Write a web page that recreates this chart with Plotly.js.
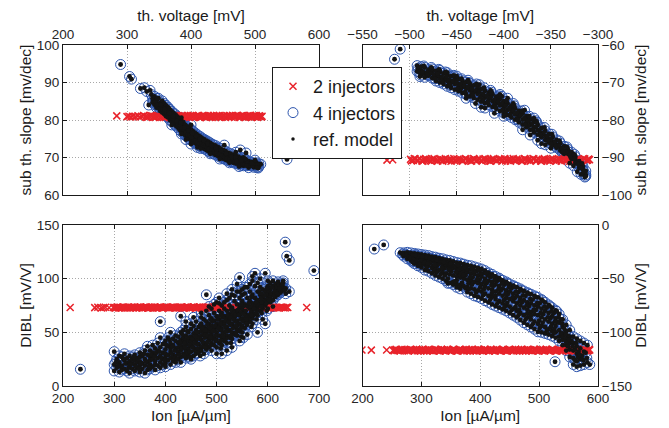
<!DOCTYPE html>
<html>
<head>
<meta charset="utf-8">
<script src="https://cdn.plot.ly/plotly-3.0.1.min.js"></script>
<style>html,body{margin:0;padding:0;background:#fff;}#chart{width:669px;height:428px;}</style>
</head>
<body>
<div id="chart"></div>
<script>
// ---------- DATA ----------
const seriesNames = ["2 injectors", "4 injectors", "ref. model"];

// Top-left: th. voltage [mV] vs sub th. slope [mv/dec]
const tlInj2 = [[284,81.1],[300,80.9],[303,81.0],[306,80.8],[309,81.0],[313,80.9],[317,81.1],[320,80.8],[323,81.0],[326,81.2],[329,80.9],[331,80.7],[335,81.0],[337,81.2],[341,80.8],[342,81.0],[346,80.9],[349,81.1],[351,80.7],[355,81.0],[358,81.2],[360,80.8],[363,81.0],[367,80.9],[369,81.1],[372,80.7],[376,81.0],[378,81.2],[381,80.8],[384,81.0],[388,80.9],[390,81.1],[393,80.7],[396,81.0],[399,81.2],[402,80.8],[404,81.0],[408,80.9],[411,81.1],[413,80.7],[416,81.0],[419,81.2],[422,80.8],[425,81.0],[428,80.9],[431,81.1],[433,80.7],[437,81.0],[440,81.2],[443,80.8],[445,81.0],[448,80.9],[452,81.1],[454,80.7],[457,81.0],[460,81.2],[463,80.8],[466,81.0],[469,80.9],[471,81.1],[475,80.7],[477,81.0],[480,81.2],[483,80.8],[486,81.0],[489,80.9],[492,81.1],[494,80.7],[497,81.0],[500,81.2],[503,80.8],[505,81.0],[508,80.9],[511,81.0],
 [333,80.8],[339,81.1],[344,80.7],[348,81.2],[353,80.9],[357,80.7],[361,81.1],[365,81.2],[368,80.7],[371,81.0],[374,81.2],[377,80.8],[380,81.1],[383,80.7],[386,81.2],[389,80.8],[392,81.0],[395,81.2],[398,80.7],[401,81.0],[403,81.2],[406,80.8],[409,81.0],[412,81.2],[415,80.7],[418,81.0],[421,81.1],[424,80.7],[427,81.2],[430,80.8],[432,81.0],[435,81.2],[438,80.7],[441,81.0],[444,81.2],[447,80.7],[450,81.0],[453,80.8],[456,81.2],[459,80.8],[462,81.0],[465,81.2],[468,80.7],[470,81.0],[473,81.2],[476,80.8],[479,81.0],[482,81.2],[485,80.7],[488,81.1],[490,80.8],[493,81.2],[496,80.8],[499,81.0],[502,81.2],[504,80.7],[507,81.1],[510,80.8]];
const tlInj4 = [[290,94.8],[304,91.6],[307,90.9],[321,88.4],[327,88.6],[331,87.6],[336,87.9],[338,86.8],[334,84.0],[341,85.2],[340,85.8],[340,84.7],[343,86.3],[343,84.1],[346,85.2],[346,83.3],[346,84.6],[349,85.8],[349,83.9],[352,84.6],[352,82.4],[352,83.5],[355,85.1],[355,83.8],[355,82.0],[358,83.2],[358,81.6],[358,84.4],[361,82.7],[361,81.0],[361,83.9],[364,82.1],[364,80.7],[364,83.4],[367,81.6],[367,80.0],[367,82.8],[370,81.2],[370,79.6],[370,82.3],[370,80.4],[373,80.6],[373,79.1],[373,81.8],[376,80.1],[376,78.5],[376,81.4],[376,79.3],[379,79.5],[379,78.0],[379,80.9],[382,79.0],[382,77.4],[382,80.4],[382,78.2],[385,78.4],[385,76.9],[385,79.8],[385,80.6],[388,77.9],[388,76.5],[388,79.4],[388,78.6],[391,77.4],[391,75.9],[391,78.7],[392,74.8],[394,76.9],[394,75.5],[394,78.3],[394,76.2],[397,76.6],[397,75.0],[397,77.9],[400,76.0],[400,74.6],[400,77.5],[400,78.7],[400,73.6],[403,75.7],[403,74.2],[403,77.0],[406,75.2],[406,73.9],[406,76.6],[406,76.0],[409,74.9],[409,73.5],[409,76.2],[410,72.7],[412,74.5],[412,73.2],[412,75.8],[415,74.2],[415,72.9],[415,75.5],[415,73.7],[418,73.9],[418,72.6],[418,75.1],[421,73.6],[421,72.3],[421,74.8],[421,74.2],[424,73.3],[424,72.0],[424,74.5],[427,73.0],[427,71.7],[427,74.2],[430,72.7],[430,71.4],[430,73.9],[430,72.0],[434,72.4],[434,71.1],[434,73.5],[438,72.0],[438,70.7],[438,73.2],[442,71.6],[442,70.4],[442,72.8],[442,71.0],[446,71.2],[446,70.1],[446,72.4],[450,70.8],[450,69.7],[450,72.0],[450,70.3],[452,73.3],[454,70.5],[454,69.4],[454,71.7],[458,70.2],[458,69.1],[458,71.3],[462,69.9],[462,68.9],[462,71.0],[462,69.5],[466,69.6],[466,68.6],[466,70.7],[470,69.3],[470,68.4],[470,70.5],[470,71.4],[474,69.1],[474,68.2],[474,70.2],[477,72.0],[478,68.8],[478,67.9],[478,69.9],[482,68.7],[482,67.8],[482,70.0],[486,68.5],[486,69.3],[486,71.2],[490,68.1],[490,67.3],[490,69.0],[494,67.9],[494,68.8],[498,68.2],[498,67.4],[502,67.8],[502,68.6],[506,67.6],[506,68.3],[509,68.2],[550,69.5],
 [344,85.0],[347,84.0],[350,83.1],[353,83.0],[356,82.8],[359,82.3],[362,81.9],[365,81.5],[368,80.9],[371,80.5],[374,79.9],[377,79.6],[380,78.8],[383,78.6],[386,77.8],[389,77.2],[392,76.6],[395,76.0],[398,75.8],[401,75.1],[404,74.9],[407,74.4],[410,74.0],[413,73.8],[416,73.4],[419,73.3],[422,72.9],[425,72.7],[428,72.3],[432,71.9],[436,71.5],[440,71.2],[444,70.8],[448,70.4],[452,70.0],[456,69.8],[460,69.4],[464,69.0],[468,68.9],[472,68.7],[476,68.4],[480,68.3],[484,68.0],[488,68.6],[492,68.3],[496,67.8],[500,68.4],[504,68.0],[380,80.3],[395,77.6],[410,75.5],[425,74.0],[440,72.2],[455,71.0],[470,70.0],[485,69.6],[500,69.3],[365,83.0],[370,78.7],[385,76.3],[400,75.4],[415,72.4],[430,71.0],[445,69.6],[460,68.6],[475,67.6],[490,67.9],[505,67.2],
 [347,85.7],[353,84.1],[359,82.9],[366,81.8],[372,81.0],[378,79.8],[384,79.3],[390,78.0],[396,77.2],[402,76.5],[408,75.7],[414,74.9],[420,74.5],[426,73.6],[432,73.2],[439,72.6],[447,71.8],[455,71.1],[463,70.2],[471,69.0],[479,69.3],[487,67.8],[495,68.5],[503,67.3]];

// Top-right: th. voltage [mV] vs sub th. slope [mv/dec]
const trInj2 = [[-524,-90.7],[-518,-90.6],[-499,-90.5],[-496,-90.8],[-494,-90.4],[-491,-90.7],[-487,-90.9],[-485,-90.5],[-482,-90.6],[-478,-90.8],[-476,-90.4],[-473,-90.7],[-470,-90.9],[-466,-90.5],[-464,-90.6],[-461,-90.8],[-457,-90.4],[-455,-90.7],[-452,-90.9],[-449,-90.5],[-445,-90.6],[-443,-90.8],[-440,-90.4],[-436,-90.7],[-434,-90.9],[-431,-90.5],[-428,-90.6],[-424,-90.8],[-422,-90.4],[-419,-90.7],[-415,-90.9],[-413,-90.5],[-410,-90.6],[-407,-90.8],[-403,-90.4],[-401,-90.7],[-398,-90.9],[-394,-90.5],[-392,-90.6],[-389,-90.8],[-386,-90.4],[-382,-90.7],[-380,-90.9],[-377,-90.5],[-373,-90.6],[-371,-90.8],[-368,-90.4],[-365,-90.7],[-361,-90.9],[-359,-90.5],[-356,-90.6],[-352,-90.8],[-350,-90.4],[-347,-90.7],[-344,-90.9],[-340,-90.5],[-338,-90.6],[-335,-90.8],[-331,-90.4],[-329,-90.7],[-326,-90.9],[-323,-90.5],[-319,-90.6],[-317,-90.8],[-314,-90.4],[-311,-90.7],[-309,-90.6],
 [-498,-90.9],[-495,-90.3],[-492,-90.8],[-489,-90.4],[-486,-91.0],[-483,-90.3],[-480,-90.7],[-477,-91.0],[-474,-90.3],[-471,-90.8],[-468,-90.5],[-465,-91.0],[-462,-90.3],[-459,-90.7],[-456,-91.0],[-453,-90.3],[-450,-90.8],[-447,-90.5],[-444,-91.0],[-441,-90.3],[-438,-90.7],[-435,-91.0],[-432,-90.3],[-429,-90.8],[-426,-90.5],[-423,-91.0],[-420,-90.3],[-417,-90.7],[-414,-91.0],[-411,-90.3],[-408,-90.8],[-405,-90.5],[-402,-91.0],[-399,-90.3],[-396,-90.7],[-393,-91.0],[-390,-90.3],[-387,-90.8],[-384,-90.5],[-381,-91.0],[-378,-90.3],[-375,-90.7],[-372,-91.0],[-369,-90.3],[-366,-90.8],[-363,-90.5],[-360,-91.0],[-357,-90.3],[-354,-90.7],[-351,-91.0],[-348,-90.3],[-345,-90.8],[-342,-90.5],[-339,-91.0],[-336,-90.3],[-333,-90.7],[-330,-91.0],[-327,-90.3],[-324,-90.8],[-321,-90.5],[-318,-91.0],[-315,-90.3],[-312,-90.8],[-310,-90.4]];
const trInj4 = [[-510,-61.1],[-516,-63.8],[-492,-65.5],[-492,-67.0],[-491,-66.2],[-488,-66.8],[-488,-65.8],[-488,-68.0],[-484,-66.0],[-484,-67.5],[-484,-68.6],[-480,-66.6],[-480,-68.2],[-480,-67.2],[-476,-67.0],[-476,-68.8],[-476,-66.4],[-472,-66.9],[-472,-68.5],[-472,-69.6],[-468,-67.3],[-468,-68.9],[-468,-70.0],[-468,-66.8],[-464,-67.6],[-464,-69.3],[-464,-70.4],[-460,-68.0],[-460,-69.6],[-460,-71.0],[-460,-67.4],[-456,-68.3],[-456,-70.0],[-456,-71.4],[-452,-68.7],[-452,-70.4],[-452,-71.9],[-452,-69.4],[-448,-69.1],[-448,-70.8],[-448,-72.3],[-444,-69.5],[-444,-71.2],[-444,-72.8],[-444,-70.3],[-440,-69.9],[-440,-71.6],[-440,-73.2],[-440,-74.2],[-436,-70.3],[-436,-72.1],[-436,-73.7],[-436,-71.0],[-432,-70.8],[-432,-72.6],[-432,-74.1],[-430,-75.6],[-428,-71.2],[-428,-73.0],[-428,-74.6],[-428,-72.1],[-424,-71.7],[-424,-73.5],[-424,-75.1],[-424,-76.6],[-420,-72.2],[-420,-74.0],[-420,-75.5],[-420,-76.8],[-416,-72.7],[-416,-74.5],[-416,-76.0],[-416,-73.4],[-412,-73.2],[-412,-75.0],[-412,-76.5],[-410,-78.2],[-408,-73.8],[-408,-75.5],[-408,-77.0],[-408,-74.6],[-404,-74.4],[-404,-76.1],[-404,-77.6],[-404,-73.2],[-400,-75.0],[-400,-76.7],[-400,-78.2],[-400,-75.9],[-400,-79.0],[-396,-75.6],[-396,-77.3],[-396,-78.7],[-396,-74.2],[-392,-76.2],[-392,-77.9],[-392,-79.3],[-392,-77.0],[-388,-76.9],[-388,-78.5],[-388,-79.9],[-384,-77.6],[-384,-79.2],[-384,-80.6],[-384,-78.4],[-380,-78.3],[-380,-79.9],[-380,-81.2],[-380,-82.6],[-376,-79.0],[-376,-80.6],[-376,-81.9],[-376,-80.0],[-372,-79.8],[-372,-81.3],[-372,-82.6],[-372,-84.0],[-368,-80.5],[-368,-82.0],[-368,-83.3],[-368,-79.5],[-364,-81.3],[-364,-82.7],[-364,-83.9],[-364,-85.4],[-360,-82.1],[-360,-83.5],[-360,-84.6],[-360,-86.3],[-356,-82.9],[-356,-84.2],[-356,-85.3],[-356,-86.6],[-352,-83.7],[-352,-85.0],[-352,-86.0],[-350,-87.5],[-348,-84.5],[-348,-85.8],[-348,-86.7],[-344,-85.3],[-344,-86.6],[-344,-87.4],[-340,-86.2],[-340,-87.4],[-340,-88.1],[-336,-87.0],[-336,-88.2],[-336,-89.0],[-332,-87.8],[-332,-89.0],[-332,-88.4],[-330,-91.5],[-328,-88.6],[-328,-89.8],[-328,-90.4],[-326,-92.2],[-324,-89.8],[-324,-90.6],[-324,-91.4],[-322,-93.8],[-320,-91.0],[-320,-92.0],[-320,-92.8],[-318,-94.5],[-316,-92.4],[-316,-93.2],[-316,-94.3],[-313,-93.6],[-313,-94.6],[-313,-95.0],
 [-490,-67.2],[-486,-67.1],[-482,-67.4],[-478,-67.6],[-474,-68.0],[-470,-68.1],[-466,-68.5],[-462,-68.8],[-458,-69.2],[-454,-69.6],[-450,-70.0],[-446,-70.4],[-442,-70.8],[-438,-71.2],[-434,-71.7],[-430,-72.1],[-426,-72.5],[-422,-73.0],[-418,-73.5],[-414,-74.0],[-410,-74.6],[-406,-75.1],[-402,-75.6],[-398,-76.2],[-394,-76.8],[-390,-77.5],[-386,-78.1],[-382,-78.8],[-378,-79.5],[-374,-80.3],[-370,-81.0],[-366,-81.8],[-362,-82.6],[-358,-83.4],[-354,-84.3],[-350,-85.1],[-346,-86.0],[-342,-86.8],[-338,-87.6],[-334,-88.5],[-330,-89.4],[-326,-90.4],[-322,-91.5],[-318,-92.8],[-315,-93.8],[-470,-67.6],[-458,-70.4],[-446,-71.8],[-434,-73.0],[-422,-74.6],[-410,-76.0],[-398,-77.8],[-386,-79.6],[-374,-81.5],[-362,-83.8],[-350,-86.3],[-338,-88.6],[-462,-67.2],[-450,-68.3],[-438,-69.4],[-426,-70.6],[-414,-72.1],[-402,-73.7],[-390,-75.6],[-378,-77.4],[-366,-80.2],
 [-489,-68.4],[-485,-65.6],[-481,-67.9],[-477,-66.0],[-473,-69.0],[-469,-66.5],[-465,-69.8],[-461,-68.4],[-457,-70.7],[-453,-68.1],[-449,-71.6],[-445,-69.0],[-441,-72.6],[-437,-70.0],[-433,-73.4],[-429,-70.4],[-425,-74.0],[-421,-71.4],[-417,-75.2],[-413,-72.6],[-409,-76.4],[-405,-73.6],[-401,-77.3],[-397,-75.0],[-393,-78.6],[-389,-76.2],[-385,-80.0],[-381,-77.6],[-377,-81.2],[-373,-79.0],[-369,-82.6],[-365,-80.6],[-361,-84.0],[-357,-82.0],[-353,-85.5],[-349,-83.8],[-345,-87.0],[-341,-85.6],[-337,-88.4],[-333,-87.2],[-329,-90.0],[-325,-89.2],[-321,-91.8],[-317,-91.6],[-314,-95.2]];

// Bottom-left: Ion [uA/um] vs DIBL [mV/V]
const blInj2 = [[214,73.2],[262,73.0],[268,73.4],[275,72.8],[279,73.1],[283,73.3],[290,72.9],[298,73.2],[301,73.0],[305,73.4],[309,72.8],[313,73.1],[317,73.3],[321,72.9],[325,73.2],[329,73.0],[333,73.4],[337,72.8],[341,73.1],[345,73.3],[349,72.9],[353,73.2],[357,73.0],[361,73.4],[365,72.8],[369,73.1],[373,73.3],[377,72.9],[381,73.2],[385,73.0],[389,73.4],[393,72.8],[397,73.1],[401,73.3],[405,72.9],[409,73.2],[413,73.0],[417,73.4],[421,72.8],[425,73.1],[429,73.3],[433,72.9],[437,73.2],[441,73.0],[445,73.4],[449,72.8],[453,73.1],[457,73.3],[461,72.9],[465,73.2],[469,73.0],[473,73.4],[477,72.8],[481,73.1],[485,73.3],[489,72.9],[494,73.2],[499,73.0],[505,73.4],[512,72.8],[520,73.1],[531,73.3],[545,72.9],[558,73.2],[570,73.0],[583,73.4],[592,72.8],[600,73.1],[606,73.3],[611,72.9],[617,73.2],[623,73.0],[628,73.4],[634,72.8],[639,73.1],[676,73.2],
 [303,72.7],[307,73.5],[311,73.0],[315,72.6],[319,73.5],[323,72.9],[327,73.6],[331,72.7],[335,73.2],[339,73.6],[343,72.6],[347,73.3],[351,73.6],[355,72.7],[359,73.1],[363,73.6],[367,72.6],[371,73.4],[375,72.8],[379,73.6],[383,72.7],[387,73.2],[391,73.6],[395,72.6],[399,73.3],[403,73.6],[407,72.7],[411,73.1],[415,73.6],[419,72.6],[423,73.4],[427,72.8],[431,73.6],[435,72.7],[439,73.2],[443,73.6],[447,72.6],[451,73.3],[455,73.6],[459,72.7],[463,73.1],[467,73.6],[471,72.6],[475,73.4],[479,72.8],[483,73.6],[487,72.7],[491,73.2],[496,73.5],[502,72.7],[508,73.3],[515,73.0],[525,72.7],[538,73.4],[552,73.0],[564,72.7],[576,73.3],[588,73.0],[596,73.5],[603,72.7],[609,73.4],[614,73.0],[620,72.7],[626,73.3],[631,73.0],[637,73.4]];
const blInj4 = [[234,15.6],[300,32],[300,14],[300,20],[305,17],[305,25],[310,22],[310,13],[310,28],[315,19],[315,27],[315,15],[320,24],[320,16],[320,30],[325,21],[325,14],[325,26],[330,18],[330,28],[330,23],[330,12],[335,25],[335,16],[335,21],[340,20],[340,29],[340,14],[340,24],[345,17],[345,26],[345,22],[350,27],[350,19],[350,13],[350,31],[350,23],[355,21],[355,16],[355,28],[360,25],[360,12],[360,33],[360,19],[365,22],[365,29],[365,15],[365,37],[370,27],[370,20],[370,33],[370,16],[370,24],[375,31],[375,18],[375,25],[375,38],[380,23],[380,29],[380,15],[380,35],[380,20],[385,33],[385,26],[385,19],[385,40],[390,28],[390,22],[390,36],[390,17],[390,60],[390,45],[395,31],[395,25],[395,39],[395,20],[400,34],[400,27],[400,21],[400,42],[400,30],[400,18],[405,29],[405,37],[405,24],[405,45],[410,32],[410,26],[410,40],[410,20],[410,35],[410,50],[415,38],[415,29],[415,44],[415,23],[420,35],[420,28],[420,42],[420,22],[420,47],[425,40],[425,31],[425,25],[425,46],[425,36],[430,33],[430,43],[430,27],[430,38],[430,65],[430,50],[430,22],[435,45],[435,36],[435,30],[435,41],[435,52],[440,39],[440,33],[440,47],[440,26],[440,43],[440,55],[445,42],[445,35],[445,50],[445,29],[445,45],[450,38],[450,46],[450,32],[450,53],[450,25],[450,41],[450,58],[455,44],[455,36],[455,49],[455,28],[455,56],[460,41],[460,52],[460,34],[460,47],[460,60],[460,30],[465,46],[465,39],[465,55],[465,31],[465,50],[470,43],[470,51],[470,36],[470,58],[470,33],[470,47],[470,64],[475,49],[475,40],[475,55],[475,30],[475,62],[480,46],[480,53],[480,38],[480,60],[480,34],[480,50],[480,85],[480,70],[485,51],[485,43],[485,58],[485,36],[485,66],[490,48],[490,56],[490,40],[490,63],[490,33],[490,52],[490,72],[495,54],[495,45],[495,61],[495,38],[495,68],[500,50],[500,58],[500,43],[500,65],[500,36],[500,55],[500,78],[500,30],[505,56],[505,47],[505,62],[505,40],[505,70],[505,82],[510,53],[510,60],[510,45],[510,68],[510,38],[510,75],[510,57],[510,30],[515,58],[515,50],[515,65],[515,42],[515,72],[520,55],[520,63],[520,47],[520,70],[520,40],[520,80],[520,86],[520,33],[525,61],[525,52],[525,67],[525,45],[525,75],[530,58],[530,66],[530,50],[530,73],[530,44],[530,85],[530,90],[530,36],[535,64],[535,55],[535,70],[535,48],[535,79],[540,61],[540,68],[540,53],[540,76],[540,47],[540,88],[540,95],[545,66],[545,58],[545,73],[545,51],[545,82],[545,101],[545,42],[550,63],[550,71],[550,56],[550,79],[550,50],[550,90],[550,85],[552,45],[555,69],[555,61],[555,76],[555,54],[555,86],[560,66],[560,74],[560,59],[560,82],[560,57],[560,92],[560,48],[565,72],[565,64],[565,79],[565,60],[565,88],[570,70],[570,77],[570,63],[570,85],[570,98],[570,102],[570,58],[575,75],[575,67],[575,82],[575,93],[575,105],[580,73],[580,80],[580,66],[580,88],[580,50],[580,96],[585,78],[585,70],[585,85],[585,92],[590,76],[590,83],[590,72],[590,90],[590,62],[595,80],[595,88],[595,75],[595,105],[595,58],[600,78],[600,85],[600,93],[600,72],[600,82],[605,83],[605,90],[605,78],[605,96],[610,86],[610,93],[610,80],[610,74],[610,98],[615,89],[615,95],[615,83],[615,90],[620,92],[620,85],[620,97],[620,88],[625,94],[625,87],[625,90],[630,96],[630,89],[630,92],[630,98],[635,91],[635,86],[634,134],[637,121],[642,117],[642,88],[690,107.5],
 [432,35],[437,40],[442,30],[447,38],[452,44],[457,33],[462,39],[467,44],[472,37],[477,45],[482,41],[487,47],[492,44],[497,51],[502,47],[507,52],[512,49],[517,55],[522,51],[527,57],[532,54],[537,60],[542,57],[547,62],[552,60],[557,65],[562,63],[567,68],[572,66],[577,71],[582,76],[587,74],[592,79],[597,77],[602,88],[607,86],[612,84],[617,92],[622,94],[627,93],[462,50],[472,54],[482,57],[492,60],[502,62],[512,64],[522,66],[532,69],[542,71],[552,74],[462,44],[478,48],[488,38],[498,42],[508,35],[518,44],[528,47],[538,50],[548,54],[558,58],[568,55],[578,62],[588,68],[598,70],[412,30],[422,33],[402,38],[392,26],[382,31],[372,29],[362,23],[352,21],[342,18],[332,20],[322,21],[312,18],[417,26],[427,29],[437,28],[447,32],[457,40],[467,34],[477,36],[487,54],[497,56],[507,58],[517,61],[527,64],[537,66],[547,68],[557,70],[567,74],[577,78],[587,82],[597,85],[440,60],[455,64],[470,68],[485,74],[495,76],[505,77],[515,78],[525,82],[535,84],[545,88],[555,92],[565,95],[585,100],[600,98],
 [303,22],[308,19],[318,25],[328,17],[338,27],[348,16],[358,30],[368,18],[378,27],[388,32],[398,24],[408,43],[418,33],[428,41],[438,36],[443,51],[453,36],[458,46],[463,35],[468,57],[473,41],[478,52],[483,47],[488,62],[493,51],[498,47],[503,54],[508,66],[513,46],[518,51],[523,59],[528,71],[533,62],[538,56],[543,66],[548,76],[553,67],[558,62],[563,77],[568,83],[573,72],[578,68],[583,88],[588,78],[593,84],[598,91],[603,80],[608,92],[613,88],[618,86],[623,91],[628,95],[633,89],[413,37],[423,25],[433,48],[448,27],[468,28],[488,45],[508,42],[528,40],[548,46],[568,66],[588,86]];

// Bottom-right: Ion [uA/um] vs DIBL [mV/V]
const brInj2 = [[199,-116.5],[215,-116.6],[241,-116.4],[252,-116.8],[255,-116.2],[258,-116.6],[262,-117.0],[265,-116.3],[269,-116.7],[272,-116.1],[276,-116.9],[279,-116.5],[283,-116.2],[286,-116.8],[290,-116.5],[293,-117.1],[297,-116.0],[300,-116.6],[304,-117.3],[307,-116.4],[311,-116.2],[314,-116.8],[318,-116.5],[321,-117.1],[325,-116.0],[328,-116.6],[332,-117.3],[335,-116.4],[339,-116.2],[342,-116.8],[346,-116.5],[349,-117.1],[353,-116.0],[356,-116.6],[360,-117.3],[363,-116.4],[367,-116.2],[370,-116.8],[374,-116.5],[377,-117.1],[381,-116.0],[384,-116.6],[388,-117.3],[391,-116.4],[395,-116.2],[398,-116.8],[402,-116.5],[405,-117.1],[409,-116.0],[412,-116.6],[416,-117.3],[419,-116.4],[423,-116.2],[426,-116.8],[430,-116.5],[433,-117.1],[437,-116.0],[440,-116.6],[444,-117.3],[447,-116.4],[451,-116.2],[454,-116.8],[458,-116.5],[461,-117.1],[465,-116.0],[468,-116.6],[472,-117.3],[475,-116.4],[479,-116.2],[482,-116.8],[486,-116.5],[489,-117.1],[493,-116.0],[496,-116.6],[500,-117.3],[503,-116.4],[507,-116.2],[510,-116.8],[514,-116.5],[517,-117.1],[521,-116.0],[524,-116.6],[528,-117.3],[531,-116.4],[535,-116.2],[538,-116.8],[542,-116.5],[545,-117.1],[549,-116.0],[552,-116.6],[556,-117.3],[559,-116.4],[563,-116.2],[566,-116.8],[570,-116.5],[573,-117.1],[577,-116.0],[580,-116.6],[584,-117.0],[586,-116.5],
 [254,-117.2],[257,-115.9],[260,-116.9],[264,-117.4],[267,-115.8],[271,-117.2],[274,-116.3],[278,-117.4],[281,-115.9],[285,-117.0],[288,-117.4],[292,-115.8],[295,-116.9],[299,-117.4],[302,-115.9],[306,-117.0],[309,-117.4],[313,-115.8],[316,-116.9],[320,-117.4],[323,-115.9],[327,-117.0],[330,-117.4],[334,-115.8],[337,-116.9],[341,-117.4],[344,-115.9],[348,-117.0],[351,-117.4],[355,-115.8],[358,-116.9],[362,-117.4],[365,-115.9],[369,-117.0],[372,-117.4],[376,-115.8],[379,-116.9],[383,-117.4],[386,-115.9],[390,-117.0],[393,-117.4],[397,-115.8],[400,-116.9],[404,-117.4],[407,-115.9],[411,-117.0],[414,-117.4],[418,-115.8],[421,-116.9],[425,-117.4],[428,-115.9],[432,-117.0],[435,-117.4],[439,-115.8],[442,-116.9],[446,-117.4],[449,-115.9],[453,-117.0],[456,-117.4],[460,-115.8],[463,-116.9],[467,-117.4],[470,-115.9],[474,-117.0],[477,-117.4],[481,-115.8],[484,-116.9],[488,-117.4],[491,-115.9],[495,-117.0],[498,-117.4],[502,-115.8],[505,-116.9],[509,-117.4],[512,-115.9],[516,-117.0],[519,-117.4],[523,-115.8],[526,-116.9],[530,-117.4],[533,-115.9],[537,-117.0],[540,-117.4],[544,-115.8],[547,-116.9],[551,-117.4],[554,-115.9],[558,-117.0],[561,-117.4],[565,-115.8],[568,-116.9],[572,-117.4],[575,-115.9],[579,-117.0],[582,-117.4],[585,-115.9]];
const brInj4 = [[220,-22.4],[236,-18.6],[264,-25.8],[270,-26],[270,-29],[276,-25.5],[276,-28],[276,-31.5],[282,-26],[282,-29],[282,-33],[288,-26.5],[288,-30],[288,-34],[288,-36],[294,-27],[294,-31],[294,-35],[294,-38],[300,-27.5],[300,-31],[300,-35],[300,-39.5],[306,-28],[306,-32],[306,-37],[306,-42],[312,-28.5],[312,-33],[312,-38],[312,-43],[318,-29.5],[318,-34],[318,-40],[318,-45],[324,-30],[324,-35],[324,-41],[324,-47],[330,-31],[330,-36],[330,-42],[330,-48.5],[336,-31.5],[336,-37],[336,-44],[336,-50],[342,-32.5],[342,-38],[342,-45],[342,-52],[345,-54.3],[348,-33],[348,-39],[348,-46],[348,-54],[354,-34],[354,-40],[354,-47],[354,-53],[354,-55.5],[360,-35],[360,-41],[360,-48],[360,-55],[360,-58],[366,-35.5],[366,-42],[366,-49],[366,-56],[366,-59.5],[372,-36.5],[372,-43],[372,-50],[372,-57],[375,-59],[378,-37.5],[378,-44],[378,-51],[378,-58],[378,-62.5],[384,-38],[384,-45],[384,-52],[384,-59],[384,-64],[390,-39],[390,-46],[390,-53],[390,-60],[390,-66],[396,-40],[396,-47],[396,-54],[396,-61],[396,-67],[402,-41],[402,-48],[402,-55],[402,-62],[402,-68.5],[408,-42.5],[408,-50],[408,-57],[408,-64],[408,-70.5],[414,-44.5],[414,-52],[414,-59],[414,-66],[414,-72],[420,-46],[420,-53],[420,-60],[420,-67],[420,-74],[426,-48],[426,-55],[426,-62],[426,-69],[426,-75.5],[432,-49.5],[432,-57],[432,-64],[432,-71],[432,-77],[438,-51.5],[438,-59],[438,-66],[438,-73],[438,-78.5],[444,-53],[444,-61],[444,-68],[444,-75],[444,-80],[450,-55],[450,-62],[450,-69],[450,-76],[450,-82],[456,-56.5],[456,-64],[456,-71],[456,-78],[456,-84],[462,-58],[462,-66],[462,-73],[462,-80],[462,-86],[468,-59.5],[468,-68],[468,-75],[468,-82],[468,-88.5],[474,-61.5],[474,-70],[474,-77],[474,-84],[474,-91],[480,-63],[480,-72],[480,-79],[480,-86],[480,-93],[486,-64.5],[486,-73],[486,-81],[486,-88],[486,-95],[492,-66],[492,-75],[492,-83],[492,-90],[492,-97],[498,-67.5],[498,-76],[498,-84],[498,-92],[498,-99.5],[504,-69.5],[504,-78],[504,-86],[504,-94],[504,-100],[510,-72],[510,-80],[510,-88],[510,-95],[510,-101],[516,-74.5],[516,-82],[516,-90],[516,-97],[516,-102],[522,-77],[522,-85],[522,-92],[522,-99],[522,-103.5],[528,-79.5],[528,-87],[528,-94],[528,-100],[528,-105],[527,-127.4],[534,-83],[534,-91],[534,-98],[534,-104],[534,-108],[540,-88],[540,-95],[540,-101],[540,-107],[540,-112],[546,-93],[546,-99],[546,-106],[546,-112],[546,-117],[552,-98],[552,-104],[552,-110],[552,-116],[552,-123],[558,-104],[558,-110],[558,-117],[558,-124],[558,-130],[564,-106],[564,-113],[564,-120],[564,-127],[564,-132],[570,-108],[570,-115],[570,-125],[570,-131],[576,-110],[576,-118],[576,-130],[582,-112],[582,-128],[586,-130],
 [273,-27.5],[279,-30],[285,-28],[291,-32.5],[297,-29],[303,-33.5],[309,-30],[315,-35.5],[321,-32],[327,-38],[333,-34],[339,-40.5],[345,-36],[351,-43],[357,-38.5],[363,-45],[369,-40],[375,-47],[381,-41.5],[387,-49],[393,-43],[399,-51],[405,-45],[411,-54],[417,-48.5],[423,-56.5],[429,-52],[435,-61],[441,-55.5],[447,-64.5],[453,-59],[459,-68],[465,-62.5],[471,-72],[477,-66],[483,-75.5],[489,-69.5],[495,-79],[501,-73],[507,-83],[513,-77],[519,-87],[525,-82],[531,-90.5],[537,-88],[543,-97],[549,-103],[555,-108],[561,-116],[567,-118],[573,-122],[579,-119],[300,-37],[320,-38],[340,-47],[360,-51.5],[380,-54.5],[400,-58],[420,-63.5],[440,-70],[460,-76.5],[480,-82.5],[500,-89],[520,-95],[540,-104],[306,-34.5],[326,-44],[346,-41],[366,-45.5],[386,-55.5],[406,-60],[426,-66],[446,-72.5],[466,-79],[486,-84.5],[506,-91],[526,-97],[546,-109],[566,-123],
 [268,-27.5],[281,-31],[287,-32],[293,-29],[299,-33],[305,-35],[311,-36],[317,-31.5],[323,-37.5],[329,-33],[335,-40],[341,-35],[347,-42],[353,-37],[359,-44],[365,-39],[371,-46.5],[377,-41],[383,-48.5],[389,-43],[395,-50.5],[401,-45],[407,-53],[413,-47],[419,-56],[425,-51],[431,-60],[437,-54.5],[443,-64],[449,-58],[455,-67.5],[461,-62],[467,-71],[473,-65.5],[479,-75],[485,-69],[491,-79],[497,-72.5],[503,-82],[509,-76],[515,-86],[521,-80.5],[527,-90],[533,-86],[539,-92],[545,-102],[551,-107],[557,-113],[563,-110],[569,-121],[575,-126],[581,-124],
 [285,-34.5],[297,-36.5],[309,-39.5],[321,-43],[333,-46],[345,-50],[357,-52.5],[369,-54],[381,-59.5],[393,-63],[405,-65.5],[417,-69.5],[429,-73],[441,-76.5],[453,-79.5],[465,-84],[477,-88],[489,-92.5],[501,-96],[513,-98.5],[525,-100.5],[537,-101],[549,-113],[561,-126],
 [290,-28],[302,-29.5],[314,-31],[326,-32.5],[338,-34.5],[350,-36],[362,-37.5],[374,-39],[386,-41],[398,-42.5],[410,-45],[422,-48],[434,-51],[446,-54.5],[458,-57.5],[470,-61],[482,-64],[494,-67],[506,-70.5],[518,-75.5],[530,-80.5]];

// Axis titles
const xTitleTop = "th. voltage [mV]";
const yTitleTop = "sub th. slope [mv/dec]";
const xTitleBottom = "Ion [µA/µm]";
const yTitleBottom = "DIBL [mV/V]";

// ---------- STYLE ----------
const FONT = "Liberation Sans, Arial, Helvetica, sans-serif";
const RED = "#e8232b", BLUE = "#2d55ad", BLACK = "#141414";

const xs = a => a.map(p => p[0]);
const ys = a => a.map(p => p[1]);

function panelTraces(xa, ya, inj2, inj4, ref, showLeg) {
  return [
    {type:"scatter", mode:"markers", x:xs(inj4), y:ys(inj4), xaxis:xa, yaxis:ya,
     name:seriesNames[1], legendrank:2, showlegend:showLeg, hoverinfo:"skip",
     marker:{symbol:"circle-open", size:10, color:BLUE, line:{width:1, color:BLUE}}},
    {type:"scatter", mode:"markers", x:xs(inj2), y:ys(inj2), xaxis:xa, yaxis:ya,
     name:seriesNames[0], legendrank:1, showlegend:showLeg, hoverinfo:"skip",
     marker:{symbol:"x-thin-open", size:7, color:RED, line:{width:1.5, color:RED}}},
    {type:"scatter", mode:"markers", x:xs(ref), y:ys(ref), xaxis:xa, yaxis:ya,
     name:seriesNames[2], showlegend:false, hoverinfo:"skip",
     marker:{symbol:"circle", size:4.8, color:BLACK}}
  ];
}

const data = [].concat(
  panelTraces("x","y", tlInj2, tlInj4, tlInj4, true),
  panelTraces("x2","y2", trInj2, trInj4, trInj4, false),
  panelTraces("x3","y3", blInj2, blInj4, blInj4, false),
  panelTraces("x4","y4", brInj2, brInj4, brInj4, false),
  // legend entry for the reference model (small dot, as in the reference legend)
  [{type:"scatter", mode:"markers", x:[null], y:[null], xaxis:"x", yaxis:"y",
    name:seriesNames[2], legendrank:3, showlegend:true, hoverinfo:"skip",
    marker:{symbol:"circle", size:3.5, color:BLACK}}]
);

const M = {l:63, r:71, t:45, b:42};
const PW = 669 - M.l - M.r, PH = 428 - M.t - M.b;
const dxL = [0, (319-63)/PW], dxR = [(362.5-63)/PW, 1];
const dyT = [(386-195)/PH, 1], dyB = [0, (386-225)/PH];

function ax(extra) {
  return Object.assign({
    showline:true, linecolor:"#1a1a1a", linewidth:1, mirror:"ticks",
    ticks:"inside", ticklen:4, tickcolor:"#1a1a1a",
    showgrid:true, gridcolor:"#a8a8a8", griddash:"1px,2px", gridwidth:1,
    zeroline:false, fixedrange:true,
    tickfont:{family:FONT, size:13.5, color:"#262626"}
  }, extra);
}
function ttl(text, standoff) {
  return {text:text, standoff:standoff, font:{family:FONT, size:15.5, color:"#1a1a1a"}};
}

const layout = {
  width:669, height:428, margin:M, paper_bgcolor:"#fff", plot_bgcolor:"#fff",
  font:{family:FONT},
  showlegend:true,
  legend:{x:(272-63)/PW, y:(386-67)/PH, xanchor:"left", yanchor:"top",
          bgcolor:"#fff", bordercolor:"#1a1a1a", borderwidth:1, tracegroupgap:0,
          font:{family:FONT, size:18, color:"#1a1a1a"}},
  xaxis: ax({domain:dxL, anchor:"y", side:"top", range:[200,600], dtick:100, title:ttl(xTitleTop,1)}),
  yaxis: ax({domain:dyT, anchor:"x", range:[60,100], dtick:10, title:ttl(yTitleTop,1)}),
  xaxis2: ax({domain:dxR, anchor:"y2", side:"top", range:[-550,-300], dtick:50, title:ttl(xTitleTop,1)}),
  yaxis2: ax({domain:dyT, anchor:"x2", side:"right", range:[-100,-60], dtick:10, title:ttl(yTitleTop,0)}),
  xaxis3: ax({domain:dxL, anchor:"y3", range:[200,700], dtick:100, title:ttl(xTitleBottom,4)}),
  yaxis3: ax({domain:dyB, anchor:"x3", range:[0,150], dtick:50, title:ttl(yTitleBottom,1)}),
  xaxis4: ax({domain:dxR, anchor:"y4", range:[200,600], dtick:100, title:ttl(xTitleBottom,4)}),
  yaxis4: ax({domain:dyB, anchor:"x4", side:"right", range:[-150,0], dtick:50, title:ttl(yTitleBottom,0)})
};

Plotly.newPlot("chart", data, layout, {displayModeBar:false, staticPlot:true});
</script>
</body>
</html>
